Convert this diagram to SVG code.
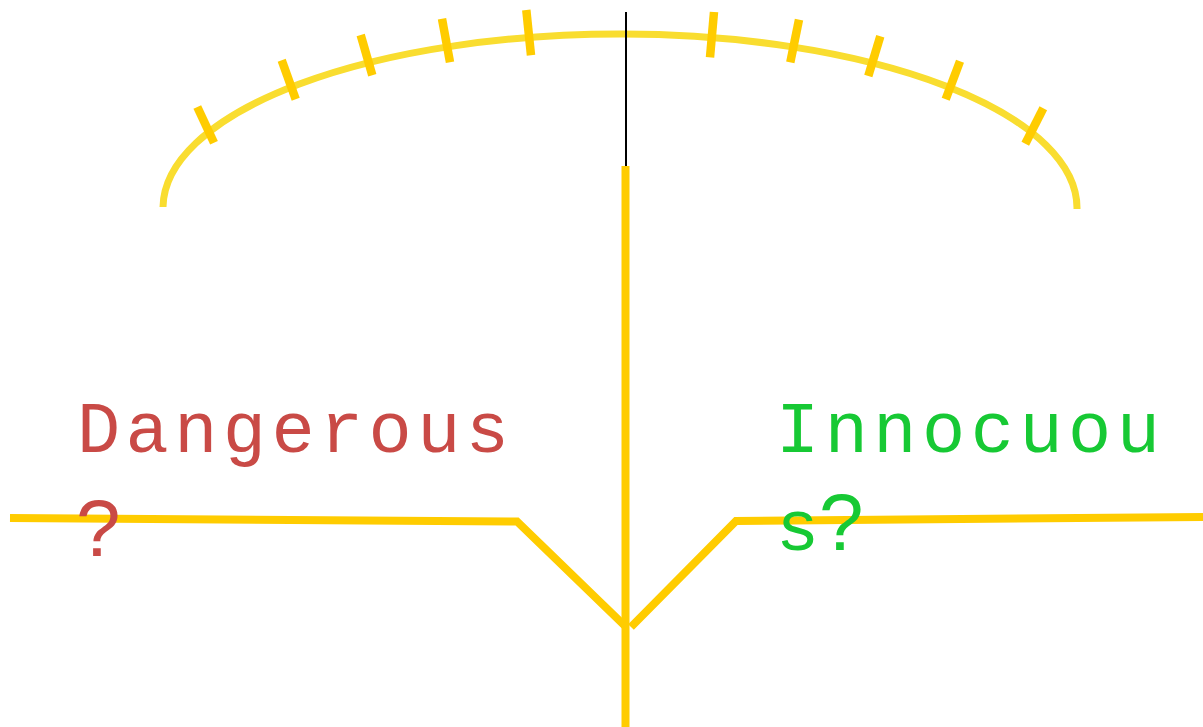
<svg xmlns="http://www.w3.org/2000/svg" width="1203" height="727" viewBox="0 0 1203 727">
<style>
.arc{fill:none;stroke:#f9dd30;stroke-width:7}
.tick{stroke:#ffcc00;stroke-width:8.5;stroke-linecap:butt}
.bar{fill:none;stroke:#ffcc00;stroke-width:8}
.mono{font-family:"Liberation Mono","Courier New",monospace;font-size:72px}
.sans{font-family:"Liberation Sans",Arial,sans-serif;font-size:80px}
.red{fill:#c94a46}
.green{fill:#17c934}
</style>
<rect width="1203" height="727" fill="#ffffff"/>
<g id="dial">
<path class="arc" d="M163,207 A457,174 0 0 1 1077,209"/>
<line class="tick" x1="197.3" y1="107" x2="214" y2="142.7"/>
<line class="tick" x1="281.7" y1="60.3" x2="295.7" y2="99.3"/>
<line class="tick" x1="360.7" y1="35" x2="372.3" y2="75.3"/>
<line class="tick" x1="442" y1="18.7" x2="450" y2="62.3"/>
<line class="tick" x1="526.3" y1="10" x2="531" y2="55.3"/>
<line class="tick" x1="714" y1="12" x2="710" y2="57.3"/>
<line class="tick" x1="799" y1="19.7" x2="790.3" y2="62.3"/>
<line class="tick" x1="880.3" y1="36.3" x2="868.3" y2="76"/>
<line class="tick" x1="960" y1="61.3" x2="945.7" y2="99.3"/>
<line class="tick" x1="1043.3" y1="108.3" x2="1025.3" y2="143.7"/>
</g>
<g id="needle">
<line x1="626" y1="12" x2="626" y2="166" stroke="#000000" stroke-width="2"/>
<line class="bar" x1="625.5" y1="166" x2="625.5" y2="727"/>
</g>
<g id="beams">
<polyline class="bar" points="10,518 517,521.5 626,627"/>
<polyline class="bar" points="631,627 736,521 1203,517"/>
</g>
<g id="dangerous">
<text class="mono red" x="77" y="452" textLength="432" lengthAdjust="spacing">Dangerous</text>
<text class="sans red" x="76" y="556">?</text>
</g>
<g id="innocuous">
<text class="mono green" x="776" y="452" textLength="384" lengthAdjust="spacing">Innocuou</text>
<text class="mono green" x="776" y="550">s</text>
<text class="sans green" x="819" y="550">?</text>
</g>
</svg>
